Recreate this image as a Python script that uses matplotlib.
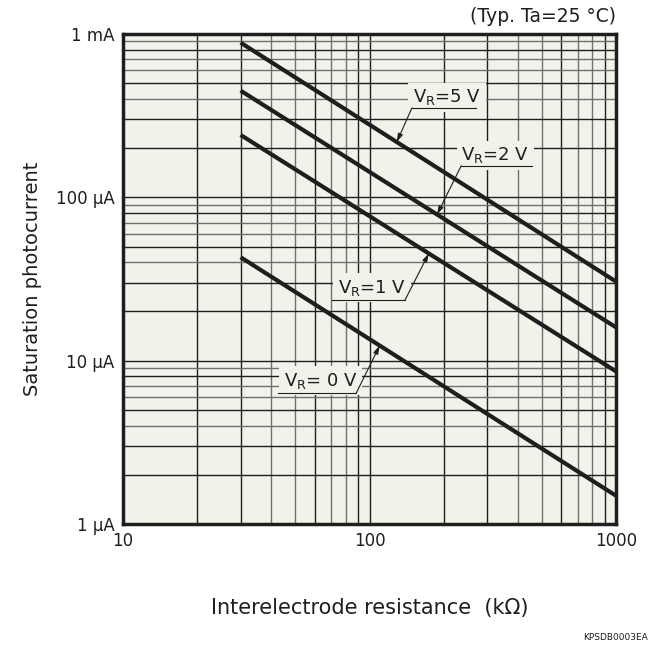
import matplotlib

matplotlib.use("Agg")
import matplotlib.pyplot as plt
import numpy as np

# Data (kOhm, uA)
resistance = [30, 1000]
series_labels = ["V$_{\\mathregular{R}}$=5 V", "V$_{\\mathregular{R}}$=2 V",
                 "V$_{\\mathregular{R}}$=1 V", "V$_{\\mathregular{R}}$= 0 V"]
current_5v = [885, 30.5]
current_2v = [450, 16.0]
current_1v = [241, 8.6]
current_0v = [43, 1.49]
arrow_x = [129, 188, 174, 110]  # where the leader arrow touches each line

yticks = [1, 10, 100, 1000]
ytick_labels = ["1 µA", "10 µA", "100 µA", "1 mA"]
xticks = [10, 100, 1000]
xtick_labels = ["10", "100", "1000"]

BG = "#f2f1ea"
INK = "#1e1e1e"

plt.rcParams["font.family"] = ["DejaVu Sans"]

fig = plt.figure(figsize=(6.58, 6.46), dpi=100)
ax = fig.add_axes([123 / 658, 1 - 524 / 646, 493 / 658, 490 / 646])
ax.set_facecolor(BG)
ax.set_xscale("log")
ax.set_yscale("log")
ax.set_xlim(10, 1000)
ax.set_ylim(1, 1000)

# grid: decades + minor lines, mixed dark / grey like the datasheet
for dec in [10, 100]:
    for m in range(1, 10):
        v = dec * m
        if v <= 10 or v >= 1000:
            continue
        col = INK if m in (1, 2, 3, 6, 9) else "#707070"
        ax.axvline(v, color=col, lw=1.0, zorder=1)
for dec in [1, 10, 100]:
    for m in range(1, 10):
        v = dec * m
        if v <= 1 or v >= 1000:
            continue
        col = INK if m in (1, 2, 3, 5, 8) else "#707070"
        ax.axhline(v, color=col, lw=1.0, zorder=1)

all_series = [current_5v, current_2v, current_1v, current_0v]
for cur in all_series:
    ax.plot(resistance, cur, color=INK, lw=3.0, solid_capstyle="butt", zorder=3)


def on_line(cur, x):
    lx = np.log10(resistance)
    ly = np.log10(cur)
    return 10 ** np.interp(np.log10(x), lx, ly)


# label placement in axes fraction: text left, text y, underline x0, x1, underline y, leader from left end?
label_pos = [
    (0.588, 0.871, 0.586, 0.716, 0.849, True),
    (0.686, 0.753, 0.686, 0.830, 0.731, True),
    (0.436, 0.482, 0.424, 0.572, 0.457, False),
    (0.326, 0.292, 0.314, 0.473, 0.267, False),
]
for cur, lab, ax_x, (tx, ty, u0, u1, uy, left) in zip(all_series, series_labels, arrow_x, label_pos):
    ax.text(tx, ty, lab, transform=ax.transAxes, ha="left", va="center",
            fontsize=13, color=INK, zorder=5,
            bbox=dict(boxstyle="square,pad=0.25", fc=BG, ec="none"))
    ax.plot([u0, u1], [uy, uy], transform=ax.transAxes, color=INK, lw=0.8, zorder=5)
    start = (u0, uy) if left else (u1, uy)
    ax.annotate("", xy=(ax_x, on_line(cur, ax_x)), xycoords="data",
                xytext=start, textcoords="axes fraction",
                arrowprops=dict(arrowstyle="-|>,head_length=0.5,head_width=0.15",
                                color=INK, lw=0.8, shrinkA=0, shrinkB=0),
                zorder=5)

ax.set_xticks(xticks)
ax.set_xticklabels(xtick_labels)
ax.set_yticks(yticks)
ax.set_yticklabels(ytick_labels)
ax.minorticks_off()
ax.tick_params(length=0, labelsize=12, colors=INK, pad=6)
for s in ax.spines.values():
    s.set_linewidth(2.5)
    s.set_color(INK)
    s.set_zorder(6)

ax.set_ylabel("Saturation photocurrent", fontsize=14, color=INK, labelpad=10)
fig.text((123 + 616) / 2 / 658, 1 - 608 / 646, "Interelectrode resistance  (kΩ)",
         ha="center", va="center", fontsize=15, color=INK)
fig.text(616 / 658, 1 - 16 / 646, "(Typ. Ta=25 °C)", ha="right", va="center",
         fontsize=13.5, color=INK)
fig.text(648 / 658, 1 - 637 / 646, "KPSDB0003EA", ha="right", va="center",
         fontsize=6.5, color=INK)

fig.savefig("out.png", dpi=100, facecolor="white")
